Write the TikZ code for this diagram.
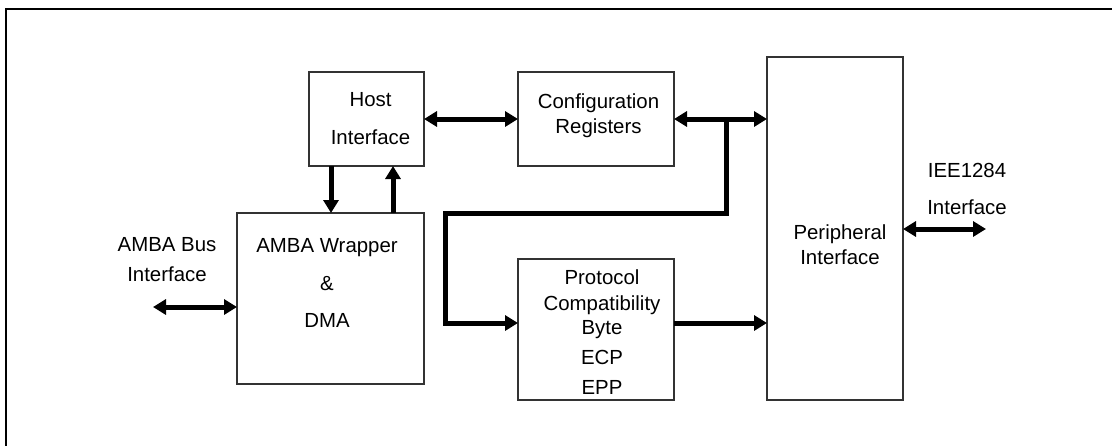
\documentclass[tikz,border=0pt]{standalone}
\usepackage{fontspec}
\setmainfont{Liberation Sans}
\usetikzlibrary{calc, arrows.meta}

\begin{document}
\begin{tikzpicture}[x = 0.5pt, y = -0.5pt,
        font = \fontsize{10.2}{12.5}\selectfont,
        block/.style = {draw = black!80, line width = 0.6pt, inner sep = 0pt, outer sep = 0pt},
        txt/.style = {align = center, inner sep = 0pt},
        bus/.style = {line width = 2.5pt, -{Triangle[length = 6.5pt, width = 7.5pt]}},
        dbus/.style = {line width = 2.5pt, {Triangle[length = 6.5pt, width = 7.5pt]}-{Triangle[length = 6.5pt, width = 7.5pt]}}]
            \useasboundingbox (0, 0) rectangle (1112, 445);
            
            % frame
            \draw[black, line width = 1.4pt](6, 450) -- (6, 9) -- (1120, 9);
            
            % blocks
            \node[block, minimum width = 57.5pt, minimum height = 47pt] (host) at (366.5, 119) {};
            \node[block, minimum width = 78pt, minimum height = 47pt] (config) at (596, 119) {};
            \node[block, minimum width = 68pt, minimum height = 171.5pt] (peri) at (835, 228.5) {};
            \node[block, minimum width = 93.5pt, minimum height = 85.5pt] (wrap) at (330.5, 298.5) {};
            \node[block, minimum width = 78pt, minimum height = 70.5pt] (proto) at (596, 329.5) {};
            
            \node[txt] (host_txt) at (370.5, 119) {Host\\[6.5pt]Interface};
            \node[txt] (config_txt) at (598.5, 115.5) {Configuration\\Registers};
            \node[txt] (peri_txt) at (840, 244.5) {Peripheral\\Interface};
            \node[txt] (wrap_txt) at (327, 282.5) {AMBA Wrapper\\[6.5pt]\&\\[6pt]DMA};
            \node[txt] (proto_txt) at (602, 332) {Protocol\\[0.5pt]Compatibility\\[-0.5pt]Byte\\[2.5pt]ECP\\[2.5pt]EPP};
            \node[txt] (amba_txt) at (167, 260) {AMBA Bus\\[2.5pt]Interface};
            \node[txt] (iee_txt) at (967, 188.5) {IEE1284\\[6pt]Interface};
            
            % connectors
            \coordinate (amba_end) at (153, 307);
            \coordinate (iee_end) at (986, 229);
            \coordinate (tap) at (726, 119);
            \coordinate (bend) at (445, 323);
            
            \draw[dbus](host.east) -- (config.west);
            \draw[dbus](config.east) -- (config.east -| peri.west);
            \draw[bus](tap) -- (726, 213) -- (445, 213) -- (bend) -- (bend -| proto.west);
            \draw[bus](bend -| proto.east) -- (bend -| peri.west);
            \draw[bus]($(host.south) + (-35.5, 0)$) -- ($(host.south |- wrap.north) + (-35.5, 0)$);
            \draw[bus]($(wrap.north) + (62.5, 0)$) -- ($(wrap.north |- host.south) + (62.5, 0)$);
            \draw[dbus](amba_end) -- (amba_end -| wrap.west);
            \draw[dbus](iee_end -| peri.east) -- (iee_end);
        \end{tikzpicture}
\end{document}
